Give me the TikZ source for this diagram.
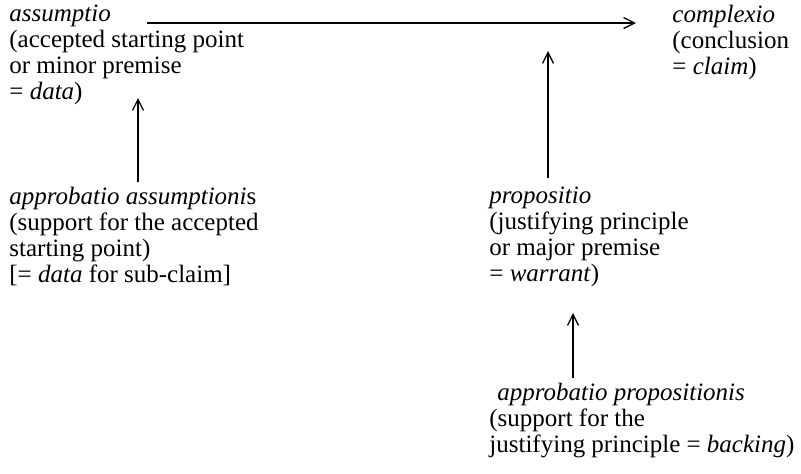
\documentclass[tikz,border=0pt]{standalone}
\usepackage{fontspec}
\setmainfont{Liberation Serif}
\usetikzlibrary{arrows.meta}

\begin{document}
\begin{tikzpicture}[x=.5pt,y=-.5pt,
  block/.style={anchor=north west,align=left,inner sep=0pt,font=\fontsize{12.5}{13}\selectfont},
  arr/.style={-{Straight Barb[length=5.5pt,width=5.5pt]},line width=.65pt}]
\useasboundingbox (0,0) rectangle (801,473);
% the five parts of the argument
\node[block] (assumptio) at (9,5) {\emph{assumptio}\\(accepted starting point\\or minor premise\\= \emph{data})};
\node[block] (complexio) at (672,5) {\emph{complexio}\\(conclusion\\= \emph{claim})};
\node[block] (appAss) at (9,187) {\emph{approbatio assumptioni}s\\(support for the accepted\\starting point)\\{[}= \emph{data} for sub-claim]};
\node[block] (propositio) at (489,187) {\emph{propositio}\\(justifying principle\\or major premise\\= \emph{warrant})};
\node[block] (appProp) at (489,383) {\hspace{4pt}\emph{approbatio propositionis}\\(support for the\\justifying principle = \emph{backing})};
% arrow ends
\coordinate (hline) at (0,23);
\coordinate (tipA) at (138,98);
\coordinate (tipB) at (548,51);
\coordinate (tipD) at (573,313);
% connectors
\draw[arr,shorten <=69pt,shorten >=18pt] (assumptio.west |- hline) -- (complexio.west |- hline);
\draw[arr,shorten <=2.5pt] (appAss.north -| tipA) -- (tipA);
\draw[arr,shorten <=4.5pt] (propositio.north -| tipB) -- (tipB);
\draw[arr,shorten <=2.5pt] (appProp.north -| tipD) -- (tipD);
\end{tikzpicture}
\end{document}
